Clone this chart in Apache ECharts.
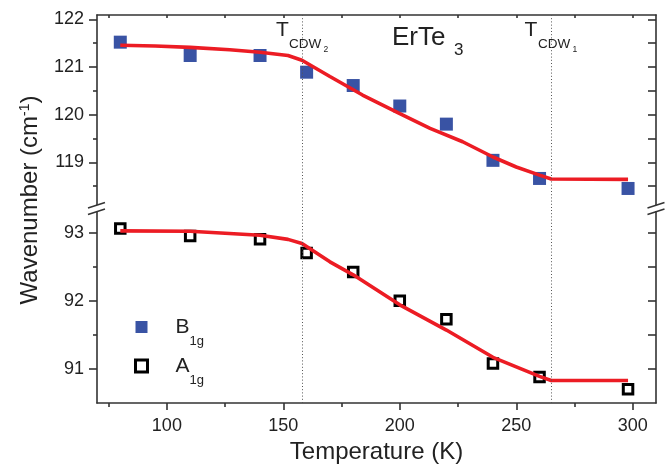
<!DOCTYPE html>
<html><head><meta charset="utf-8">
<script src="https://cdn.jsdelivr.net/npm/echarts@6/dist/echarts.min.js"></script>
<style>html,body{margin:0;padding:0;background:#fff}#c{width:669px;height:466px}</style>
</head><body><div id="c"></div>
<script>
// ---- data ----
const temps = [80, 110, 140, 160, 180, 200, 220, 240, 260, 298];
const b1g = [121.52, 121.24, 121.24, 120.89, 120.61, 120.18, 119.80, 119.04, 118.66, 118.45];
const a1g = [93.06, 92.95, 92.90, 92.70, 92.42, 92.00, 91.73, 91.08, 90.88, 90.70];
const fitBT = [80, 95, 110, 127, 140, 152, 158, 170, 184, 200, 213, 227, 240, 250, 260, 265, 298];
const fitBW = [121.455, 121.44, 121.41, 121.36, 121.31, 121.24, 121.14, 120.80, 120.41, 120.02, 119.71, 119.43, 119.11, 118.90, 118.73, 118.65, 118.64];
const fitAT = [80, 110, 140, 152, 158, 170, 180, 200, 220, 240, 260, 265, 298];
const fitAW = [93.025, 93.02, 92.96, 92.90, 92.84, 92.57, 92.38, 91.94, 91.57, 91.17, 90.89, 90.83, 90.83];
const tcdw = [158, 265];
const xMajor = [100, 150, 200, 250, 300];
const xMinor = [75, 125, 175, 225, 275];
const topMajor = [119, 120, 121, 122];
const topMinor = [118.5, 119.5, 120.5, 121.5];
const botMajor = [91, 92, 93];
const botMinor = [91.5, 92.5];

const FF = '"Liberation Sans", Arial, sans-serif';
const AX = '#333';
const zip = (a, b) => a.map((v, i) => [v, b[i]]);
const lineStyle = {color: AX, width: 1.6};
const TOP = {min: 118.04, max: 122.09};
const BOT = {min: 90.5, max: 93.36};
const openSq = {color: '#fff', borderColor: '#000', borderWidth: 3, opacity: 1};

function yAxes(gi, rng, major, minor) {
  return [
    {gridIndex: gi, type: 'value', min: rng.min, max: rng.max, position: 'left',
     axisLine: {show: true, onZero: false, lineStyle},
     axisTick: {show: true, length: 8, lineStyle, customValues: major},
     axisLabel: {show: true, customValues: major, fontSize: 18, margin: 13, color: '#222', fontFamily: FF},
     splitLine: {show: false}},
    {gridIndex: gi, type: 'value', min: rng.min, max: rng.max, position: 'left',
     axisLine: {show: false, onZero: false},
     axisTick: {show: true, length: 4, lineStyle, customValues: minor},
     axisLabel: {show: false}, splitLine: {show: false}},
    {gridIndex: gi, type: 'value', min: rng.min, max: rng.max, position: 'right',
     axisLine: {show: true, onZero: false, lineStyle},
     axisTick: {show: true, inside: true, length: 8, lineStyle, customValues: major.concat(minor)},
     axisLabel: {show: false}, splitLine: {show: false}}
  ];
}

const vlines = {
  silent: true, symbol: ['none', 'none'], label: {show: false},
  lineStyle: {type: [1, 2.2], color: '#555', width: 1},
  emphasis: {disabled: true},
  data: tcdw.map(v => ({xAxis: v}))
};

const chart = echarts.init(document.getElementById('c'), null, {renderer: 'canvas'});
chart.setOption({
  animation: false,
  backgroundColor: '#fff',
  grid: [
    {left: 97, top: 15, width: 559, height: 193},
    {left: 97, top: 208, width: 559, height: 195}
  ],
  xAxis: [
    {gridIndex: 0, type: 'value', min: 70, max: 310, position: 'top',
     axisLine: {show: true, onZero: false, lineStyle},
     axisTick: {show: true, inside: true, length: 3, lineStyle, customValues: xMajor.concat(xMinor)},
     axisLabel: {show: false}, splitLine: {show: false}},
    {gridIndex: 1, type: 'value', min: 70, max: 310, position: 'bottom',
     axisLine: {show: true, onZero: false, lineStyle},
     axisTick: {show: true, length: 7, lineStyle, customValues: xMajor},
     axisLabel: {show: true, customValues: xMajor, fontSize: 18, margin: 14, color: '#222', fontFamily: FF},
     splitLine: {show: false},
     name: 'Temperature (K)', nameLocation: 'middle', nameGap: 37,
     nameTextStyle: {fontSize: 24, color: '#222', fontFamily: FF}},
    {gridIndex: 1, type: 'value', min: 70, max: 310, position: 'bottom',
     axisLine: {show: false, onZero: false},
     axisTick: {show: true, length: 4, lineStyle, customValues: xMinor},
     axisLabel: {show: false}, splitLine: {show: false}}
  ],
  yAxis: yAxes(0, TOP, topMajor, topMinor).concat(yAxes(1, BOT, botMajor, botMinor)),
  legend: {
    data: [{name: 'B1g'}, {name: 'A1g', itemStyle: openSq}],
    orient: 'vertical', left: 134, top: 306, padding: 0,
    itemWidth: 12, itemHeight: 12, itemGap: -3, selectedMode: false,
    formatter: n => n === 'B1g' ? '{m|B}{s|1g}' : '{m|A}{s|1g}',
    textStyle: {rich: {
      m: {fontSize: 21, lineHeight: 21, color: '#222', padding: [0, 0, 0, 23], verticalAlign: 'middle', fontFamily: FF},
      s: {fontSize: 13, lineHeight: 13, color: '#222', padding: [29, 0, 0, 0], verticalAlign: 'middle', fontFamily: FF}
    }}
  },
  series: [
    {name: 'B1g', type: 'scatter', xAxisIndex: 0, yAxisIndex: 0, symbol: 'rect', symbolSize: 13, z: 2,
     itemStyle: {color: '#3953a4', opacity: 1}, data: zip(temps, b1g)},
    {name: 'fitB', type: 'line', xAxisIndex: 0, yAxisIndex: 0, showSymbol: false, symbol: 'none', z: 3,
     lineStyle: {color: '#ec1c24', width: 3.6}, data: zip(fitBT, fitBW), markLine: vlines},
    {name: 'A1g', type: 'scatter', xAxisIndex: 1, yAxisIndex: 3, symbol: 'rect', symbolSize: 9.5, z: 2,
     itemStyle: openSq, data: zip(temps, a1g)},
    {name: 'fitA', type: 'line', xAxisIndex: 1, yAxisIndex: 3, showSymbol: false, symbol: 'none', z: 3,
     lineStyle: {color: '#ec1c24', width: 3.6}, data: zip(fitAT, fitAW), markLine: vlines}
  ],
  graphic: [
    {type: 'text', x: 30.5, y: 200, rotation: Math.PI / 2,
     style: {text: '{a|Wavenumber (cm}{s|-1}{a|)}', align: 'center', verticalAlign: 'middle',
       rich: {a: {fontSize: 24, lineHeight: 24, padding: [4, 0, 0, 0], verticalAlign: 'bottom', fill: '#222', fontFamily: FF},
              s: {fontSize: 14, lineHeight: 14, verticalAlign: 'top', fill: '#222', fontFamily: FF}}}},
    {type: 'text', x: 276, y: 30.3, style: {text: 'T', fontSize: 21, fill: '#222', fontFamily: FF, verticalAlign: 'middle'}},
    {type: 'text', x: 289, y: 43.8, style: {text: 'CDW', fontSize: 13.5, fill: '#222', fontFamily: FF, verticalAlign: 'middle'}},
    {type: 'text', x: 323.5, y: 50, style: {text: '2', fontSize: 8.5, fill: '#222', fontFamily: FF, verticalAlign: 'middle'}},
    {type: 'text', x: 524.5, y: 30.3, style: {text: 'T', fontSize: 21, fill: '#222', fontFamily: FF, verticalAlign: 'middle'}},
    {type: 'text', x: 538, y: 43.8, style: {text: 'CDW', fontSize: 13.5, fill: '#222', fontFamily: FF, verticalAlign: 'middle'}},
    {type: 'text', x: 572.5, y: 50, style: {text: '1', fontSize: 8.5, fill: '#222', fontFamily: FF, verticalAlign: 'middle'}},
    {type: 'text', x: 392, y: 37.5, style: {text: 'ErTe', fontSize: 26, fill: '#222', fontFamily: FF, verticalAlign: 'middle'}},
    {type: 'text', x: 454, y: 50.5, style: {text: '3', fontSize: 17, fill: '#222', fontFamily: FF, verticalAlign: 'middle'}},
    // axis break marks
    {type: 'rect', shape: {x: 93, y: 205, width: 8, height: 6}, style: {fill: '#fff'}, z: 100},
    {type: 'rect', shape: {x: 652, y: 205, width: 8, height: 6}, style: {fill: '#fff'}, z: 100},
    {type: 'line', shape: {x1: 88, y1: 208, x2: 105, y2: 202.5}, style: {stroke: AX, lineWidth: 1.5}, z: 101},
    {type: 'line', shape: {x1: 88, y1: 214.5, x2: 105, y2: 209}, style: {stroke: AX, lineWidth: 1.5}, z: 101},
    {type: 'line', shape: {x1: 647.5, y1: 208, x2: 664.5, y2: 202.5}, style: {stroke: AX, lineWidth: 1.5}, z: 101},
    {type: 'line', shape: {x1: 647.5, y1: 214.5, x2: 664.5, y2: 209}, style: {stroke: AX, lineWidth: 1.5}, z: 101}
  ]
});
</script>
</body></html>
